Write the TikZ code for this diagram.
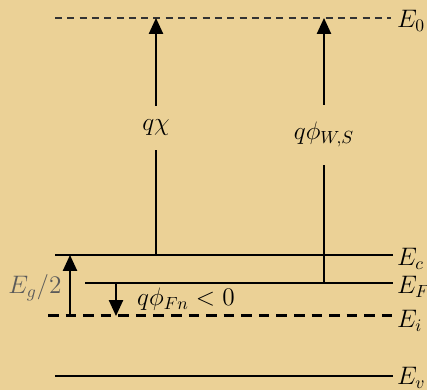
\documentclass[tikz,border=0pt]{standalone}
\usepackage{xcolor}
\usepackage{tikz}
\usetikzlibrary{arrows.meta,positioning,calc}
\usepackage{amsmath,amssymb}
\definecolor{parchment}{HTML}{EBD196}
\definecolor{inkgrey}{HTML}{5A5A5A}

\begin{document}
\begin{tikzpicture}[font=\Large,
  lvl/.style={draw=black,line width=1.3pt},
  vaclvl/.style={draw=black!80,line width=0.7pt,dash pattern=on 4pt off 3pt},
  intlvl/.style={draw=black,line width=1.7pt,dash pattern=on 6pt off 4pt},
  arr/.style={draw=black,line width=1pt,-{Triangle[length=9pt,width=8pt]}},
  gaplbl/.style={fill=parchment,inner sep=0pt,minimum width=8mm},
  lvllbl/.style={anchor=west,inner sep=1pt}]
  \fill[parchment] (0,0) rectangle (8.54,7.8);
  \useasboundingbox (0,0) rectangle (8.54,7.8);
  % band levels
  \coordinate (vac-l) at (1.1,7.44);  \coordinate (vac-r) at (7.82,7.44);
  \coordinate (c-l) at (1.1,2.70);    \coordinate (c-r) at (7.86,2.70);
  \coordinate (f-l) at (1.7,2.14);    \coordinate (f-r) at (7.86,2.14);
  \coordinate (i-l) at (0.96,1.48);   \coordinate (i-r) at (7.86,1.48);
  \coordinate (v-l) at (1.1,0.28);    \coordinate (v-r) at (7.86,0.28);
  \draw[vaclvl] (vac-l) -- (vac-r);
  \draw[lvl] (c-l) -- (c-r);
  \draw[lvl] (f-l) -- (f-r);
  \draw[intlvl] (i-l) -- (i-r);
  \draw[lvl] (v-l) -- (v-r);
  \node[lvllbl] (vac-lbl) at (7.9,7.38) {$E_0$};
  \node[lvllbl] (c-lbl) at (7.9,2.62) {$E_c$};
  \node[lvllbl] (f-lbl) at (7.9,2.06) {$E_F$};
  \node[lvllbl] (i-lbl) at (7.9,1.38) {$E_i$};
  \node[lvllbl] (v-lbl) at (7.9,0.24) {$E_v$};
  % arrow columns
  \coordinate (chi) at (3.12,0);
  \coordinate (ws) at (6.48,0);
  \coordinate (half) at (1.4,0);
  \coordinate (fn) at (2.32,0);
  \draw[arr] (chi |- c-l) -- node[gaplbl,pos=0.536,minimum height=8.8mm] (chi-lbl) {$q\chi$} (chi |- vac-l);
  \draw[arr] (ws |- f-l) -- node[gaplbl,pos=0.56,minimum height=12mm] (ws-lbl) {$q\phi_{W,S}$} (ws |- vac-l);
  \draw[arr] (half |- i-l) -- (half |- c-l);
  \node[text=inkgrey] (half-lbl) at (0.7,2.04) {$E_g/2$};
  \draw[arr] (fn |- f-l) -- (fn |- i-l);
  \node[anchor=west] (fn-lbl) at (2.62,1.82) {$q\phi_{Fn} < 0$};
\end{tikzpicture}
\end{document}
